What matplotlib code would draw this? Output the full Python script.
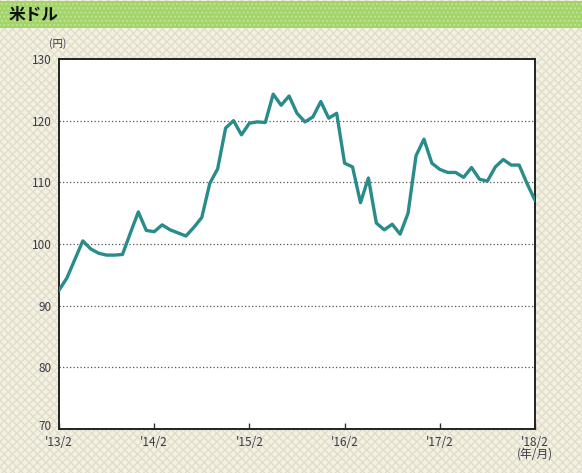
import matplotlib.pyplot as plt
import matplotlib.patches as mpatches
import matplotlib.transforms as mtransforms
import numpy as np

plt.rcParams['font.family'] = ['Noto Sans CJK JP', 'DejaVu Sans']

# monthly USD/JPY, 2013/2 .. 2018/2
usd_jpy = [
    92.5, 94.5, 97.5, 100.5, 99.2, 98.5, 98.2, 98.2, 98.3, 101.8, 105.2, 102.2,
    102.0, 103.1, 102.3, 101.8, 101.3, 102.7, 104.3, 109.8, 112.2, 118.8, 120.0, 117.7,
    119.6, 119.8, 119.7, 124.3, 122.5, 124.0, 121.2, 119.8, 120.6, 123.1, 120.4, 121.2,
    113.1, 112.5, 106.7, 110.7, 103.4, 102.3, 103.2, 101.6, 105.0, 114.3, 117.0, 113.1,
    112.1, 111.6, 111.6, 110.8, 112.4, 110.5, 110.2, 112.5, 113.7, 112.8, 112.8, 109.8,
    107.1,
]
x_ticks = [0, 12, 24, 36, 48, 60]
x_labels = ["'13/2", "'14/2", "'15/2", "'16/2", "'17/2", "'18/2\n(年/月)"]
y_ticks = [70, 80, 90, 100, 110, 120, 130]

fig = plt.figure(figsize=(5.82, 4.73), dpi=100)
fig.patch.set_facecolor('#f4f2dc')

# checkered background + title band
bg = mpatches.Rectangle((0, 0), 1, 1, transform=fig.transFigure, facecolor='#f4f2dc',
                        edgecolor='#e0ddd2', hatch='xxxx', linewidth=0, zorder=-2)
fig.patches.append(bg)
band = mpatches.Rectangle((0, 1 - 28 / 473), 1, 27 / 473, transform=fig.transFigure,
                          facecolor='#a2d46a', edgecolor='#c0e394', hatch='....',
                          linewidth=0, zorder=-1)
fig.patches.append(band)
fig.text(9 / 582, 1 - 15 / 473, '米ドル', fontsize=12, fontweight='bold',
         va='center', ha='left', color='#111111')

ax = fig.add_axes([59 / 582, 1 - 429 / 473, 476 / 582, 370 / 473])
ax.set_facecolor('white')
ax.plot(np.arange(len(usd_jpy)), usd_jpy, color='#2a8c8a', linewidth=2.4,
        solid_joinstyle='round', zorder=3)

ax.set_xlim(0, 60)
ax.set_ylim(70, 130)
ax.set_yticks(y_ticks)
ax.set_yticklabels([str(v) for v in y_ticks], fontsize=8.5, color='#3a3a4a')
ax.set_xticks(x_ticks)
ax.set_xticklabels(x_labels, fontsize=8.5, color='#3a3a4a', linespacing=0.9,
                   va='top')
ax.tick_params(axis='y', length=0, pad=5)
ax.tick_params(axis='x', direction='in', length=4, width=1, color='#333333', pad=5)
# lift the bottom "70" a little so it clears the first date label
lbl70 = ax.get_yticklabels()[0]
lbl70.set_transform(lbl70.get_transform() +
                    mtransforms.ScaledTranslation(0, 4 / 100, fig.dpi_scale_trans))
for v in y_ticks[1:-1]:
    ax.axhline(v, color='#555555', linestyle=(0, (1, 1.8)), linewidth=0.9, zorder=1)
for s in ax.spines.values():
    s.set_color('#222222')
    s.set_linewidth(1.4)

fig.text(58 / 582, 1 - 44 / 473, '(円)', fontsize=7.5, ha='center', va='center',
         color='#3a3a4a')

fig.savefig('out.png', dpi=100, facecolor=fig.get_facecolor())
